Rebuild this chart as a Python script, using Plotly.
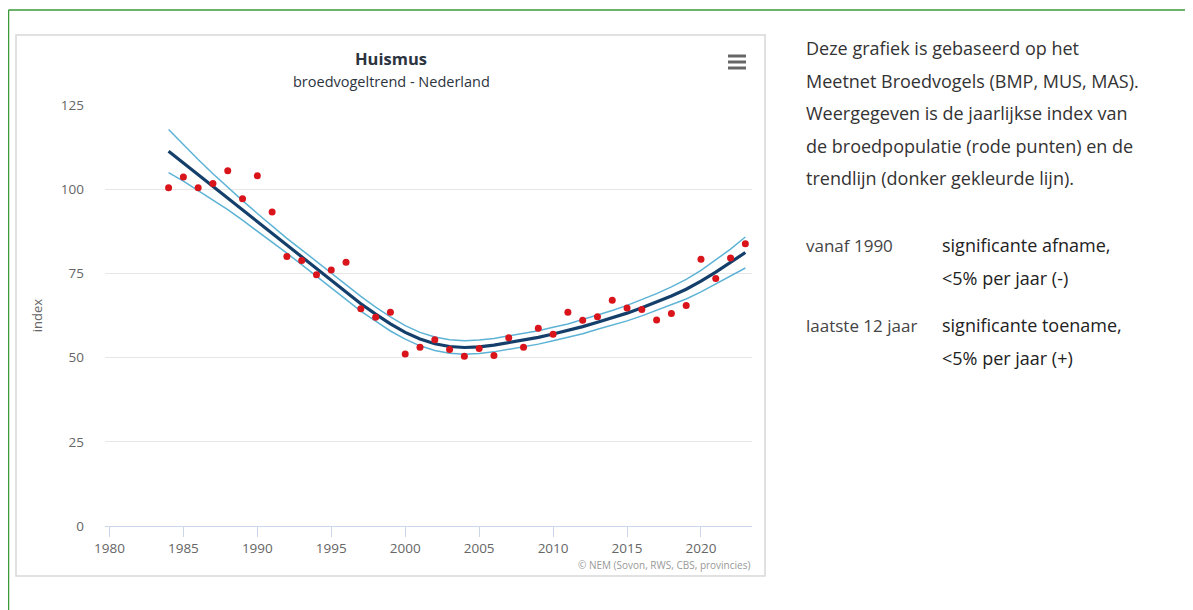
import plotly.graph_objects as go

# jaarlijkse index (rode punten)
years = list(range(1984, 2024))
index_values = [100.4, 103.6, 100.4, 101.7, 105.5, 97.2, 104.0, 93.2, 80.0, 78.8,
                74.6, 76.0, 78.3, 64.5, 62.0, 63.5, 51.1, 53.1, 55.3, 52.4,
                50.4, 52.7, 50.6, 55.9, 53.1, 58.7, 56.9, 63.5, 61.1, 62.1,
                67.0, 64.7, 64.3, 61.2, 63.1, 65.5, 79.2, 73.5, 79.6, 83.8]

# trendlijn met betrouwbaarheidsband
trend = [111.3, 107.8, 104.2, 100.7, 97.2, 93.7, 90.2, 86.7, 83.2, 79.8,
         76.3, 72.8, 69.3, 66.0, 62.9, 60.0, 57.5, 55.5, 54.1, 53.3,
         53.0, 53.2, 53.7, 54.4, 55.1, 56.0, 57.0, 58.0, 59.2, 60.5,
         61.8, 63.2, 64.8, 66.5, 68.3, 70.3, 72.7, 75.4, 78.2, 81.2]
trend_lower = [104.9, 102.4, 99.6, 96.8, 93.9, 90.8, 87.6, 84.3, 81.0, 77.6,
               74.1, 70.6, 67.1, 63.8, 60.8, 57.9, 55.5, 53.5, 52.1, 51.3,
               51.0, 51.2, 51.7, 52.4, 53.1, 54.0, 55.0, 56.0, 57.1, 58.4,
               59.6, 60.9, 62.4, 64.0, 65.6, 67.4, 69.5, 71.8, 74.2, 76.6]
trend_upper = [117.7, 113.2, 108.8, 104.6, 100.5, 96.6, 92.8, 89.1, 85.4, 82.0,
               78.5, 75.0, 71.5, 68.2, 65.0, 62.1, 59.5, 57.5, 56.1, 55.3,
               55.0, 55.2, 55.7, 56.4, 57.1, 58.0, 59.0, 60.0, 61.3, 62.6,
               64.0, 65.5, 67.2, 69.0, 71.0, 73.2, 75.9, 79.0, 82.2, 85.8]

y_ticks = [0, 25, 50, 75, 100, 125]
x_ticks = [1980, 1985, 1990, 1995, 2000, 2005, 2010, 2015, 2020]

# page is 1193x610, the html body adds an 8px margin
OFF = 8
W, H = 1193 - OFF, 610 - OFF
L, R, T, B = 105, 752, 105, 526   # plot area in page pixels


def px(x):
    return (x - L) / (R - L)


def py(y):
    return (B - y) / (B - T)


FONT = "Open Sans"

fig = go.Figure()

fig.add_trace(go.Scatter(x=years, y=trend_upper, mode="lines",
                         line=dict(color="#5db3d5", width=1.5), hoverinfo="skip"))
fig.add_trace(go.Scatter(x=years, y=trend_lower, mode="lines",
                         line=dict(color="#5db3d5", width=1.5), hoverinfo="skip"))
fig.add_trace(go.Scatter(x=years, y=trend, mode="lines",
                         line=dict(color="#143f6b", width=3.2)))
fig.add_trace(go.Scatter(x=years, y=index_values, mode="markers",
                         marker=dict(color="#d9141b", size=7)))

fig.update_layout(
    width=W, height=H,
    margin=dict(l=L - OFF, r=OFF + W - R, t=T - OFF, b=OFF + H - B),
    paper_bgcolor="white", plot_bgcolor="white",
    showlegend=False,
    font=dict(family=FONT, color="#666666", size=13),
)
fig.update_xaxes(range=[1979.7, 2023.45], tickvals=x_ticks, showgrid=False,
                 showline=True, linecolor="#ccd6eb", linewidth=1,
                 ticks="outside", ticklen=10, tickcolor="#ccd6eb",
                 tickfont=dict(size=13.5, color="#666666"), zeroline=False)
fig.update_yaxes(range=[0, 125], tickvals=y_ticks, showgrid=True,
                 gridcolor="#e6e6e6", gridwidth=1, zeroline=False,
                 ticks="", ticklabelstandoff=20,
                 tickfont=dict(size=13.5, color="#666666"),
                 title=dict(text="index", font=dict(size=13, color="#666666"), standoff=15))

shapes = []
# groene kader
shapes.append(dict(type="line", xref="paper", yref="paper", x0=px(8.5), x1=px(1200), y0=py(10), y1=py(10),
                   line=dict(color="#3a9a3a", width=1.5)))
shapes.append(dict(type="line", xref="paper", yref="paper", x0=px(8.5), x1=px(8.5), y0=py(10), y1=py(620),
                   line=dict(color="#3a9a3a", width=1.5)))
# grijze kader rond grafiek
shapes.append(dict(type="rect", xref="paper", yref="paper", x0=px(16), x1=px(765), y0=py(576), y1=py(35),
                   line=dict(color="#d8d8d8", width=1.5), layer="below"))
# menu-icoon
for yy in [56, 62, 68]:
    shapes.append(dict(type="line", xref="paper", yref="paper", x0=px(728), x1=px(746),
                       y0=py(yy), y1=py(yy), line=dict(color="#666666", width=3)))
fig.update_layout(shapes=shapes)

ann = []
ann.append(dict(text="<b>Huismus</b>", x=px(391), y=py(58), font=dict(size=16.5, color="#2b3440")))
ann.append(dict(text="broedvogeltrend - Nederland", x=px(391), y=py(81), font=dict(size=14.5, color="#2b3440")))
ann.append(dict(text="© NEM (Sovon, RWS, CBS, provincies)", x=px(752), y=py(565), xanchor="right",
                font=dict(size=10, color="#999999")))

intro = ["Deze grafiek is gebaseerd op het",
         "Meetnet Broedvogels (BMP, MUS, MAS).",
         "Weergegeven is de jaarlijkse index van",
         "de broedpopulatie (rode punten) en de",
         "trendlijn (donker gekleurde lijn)."]
for i, line in enumerate(intro):
    ann.append(dict(text=line, x=px(804), y=py(48 + i * 32.6), xanchor="left",
                    font=dict(size=18, color="#333333")))

trend_rows = [("vanaf 1990", 245, "significante afname,", "<5% per jaar (-)"),
              ("laatste 12 jaar", 325, "significante toename,", "<5% per jaar (+)")]
for label, yy, l1, l2 in trend_rows:
    ann.append(dict(text=label, x=px(804), y=py(yy), xanchor="left", font=dict(size=17, color="#444444")))
    ann.append(dict(text=l1, x=px(940), y=py(yy), xanchor="left", font=dict(size=18, color="#222222")))
    ann.append(dict(text=l2.replace("<", "&lt;"), x=px(940), y=py(yy + 32.6), xanchor="left",
                    font=dict(size=18, color="#222222")))

for a in ann:
    a.update(xref="paper", yref="paper", showarrow=False, yanchor="middle")
    a.setdefault("xanchor", "center")
    a["font"]["family"] = FONT
fig.update_layout(annotations=ann)

fig.write_html("out.html")
